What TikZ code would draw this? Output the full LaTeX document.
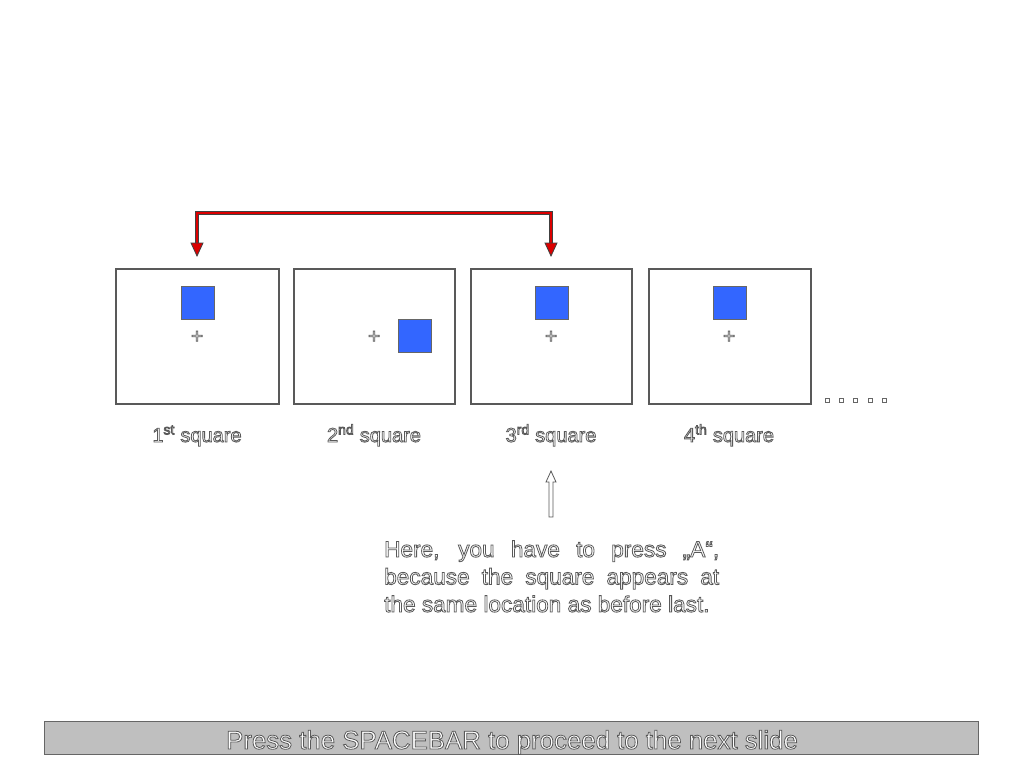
\documentclass[tikz,border=0pt]{standalone}
\usepackage{fontspec}
\setmainfont{Liberation Sans}
\usetikzlibrary{arrows.meta}
\newcommand{\outltxt}[1]{{\color{white}\special{pdf:literal direct 2 Tr 0.8 w 0.35 G}#1\special{pdf:literal direct 0 Tr}}}
\tikzset{
  frame/.style={draw=black!65, line width=1.4pt, fill=white, minimum width=#1, minimum height=135pt, inner sep=0pt, outer sep=0pt},
  bluesq/.style={draw=black!60, line width=0.6pt, fill={rgb,255:red,51;green,102;blue,255}, minimum width=33pt, minimum height=33pt, inner sep=0pt},
  crossmark/.style={font=\fontsize{21}{21}\selectfont, inner sep=0pt},
  lab/.style={font=\fontsize{20}{24}\selectfont, inner sep=0pt, anchor=base},
  redline/.style={draw=black!75, double={rgb,255:red,220;green,0;blue,0}, double distance=2.4pt, line width=0.8pt},
  redhead/.style={fill={rgb,255:red,220;green,0;blue,0}, draw=black!75, line width=0.8pt},
  dotbox/.style={draw=black!60, line width=0.7pt, fill=white, minimum size=4pt, inner sep=0pt},
}
\begin{document}
\begin{tikzpicture}[x=1pt,y=-1pt]
\useasboundingbox[fill=white] (0,0) rectangle (1024,768);
% frames
\node[frame=163pt] (f1) at (197.5,336.5) {};
\node[frame=161pt] (f2) at (374.5,336.5) {};
\node[frame=161pt] (f3) at (551.5,336.5) {};
\node[frame=162pt] (f4) at (730,336.5) {};
% blue squares
\node[bluesq] (s1) at (197.5,302.5) {};
\node[bluesq] (s2) at (415,336) {};
\node[bluesq] (s3) at (551.5,302.5) {};
\node[bluesq] (s4) at (729.5,302.5) {};
% crosses
\node[crossmark] (c1) at (197,337) {\outltxt{+}};
\node[crossmark] (c2) at (374,337) {\outltxt{+}};
\node[crossmark] (c3) at (551,337) {\outltxt{+}};
\node[crossmark] (c4) at (729,337) {\outltxt{+}};
% continuation dots
\node[dotbox] (d1) at (827,400) {};
\node[dotbox] (d2) at (841,400) {};
\node[dotbox] (d3) at (855,400) {};
\node[dotbox] (d4) at (870,400) {};
\node[dotbox] (d5) at (884,400) {};
% labels
\node[lab] (l1) at (197,442) {\outltxt{1\textsuperscript{st} square}};
\node[lab] (l2) at (374,442) {\outltxt{2\textsuperscript{nd} square}};
\node[lab] (l3) at (551,442) {\outltxt{3\textsuperscript{rd} square}};
\node[lab] (l4) at (729,442) {\outltxt{4\textsuperscript{th} square}};
% red connector
\coordinate (b1) at (197,244);
\coordinate (b3) at (551,244);
\coordinate (top) at (374,213);
\draw[redline] (b1) |- (top) -| (b3);
\fill[redhead] (197,256) -- (191,243) -- (203,243) -- cycle;
\fill[redhead] (551,256) -- (545,243) -- (557,243) -- cycle;
% hollow up arrow
\coordinate (ut) at (551,471);
\coordinate (ub) at (551,517);
\draw[draw=black!65, line width=0.8pt, fill=white] (ut) -- ++(5,11) -- ++(-3,0) |- (ub) -- ++(-2,0) |- ++(-3,-35) -- cycle;
% explanation
\node[anchor=base west, inner sep=0pt] (expl) at (384,557) {\parbox[t]{335pt}{\fontsize{22.6}{27.5}\selectfont\hyphenpenalty=10000\noindent\outltxt{Here, you have to press „A“,\linebreak because the square appears at\linebreak the same location as before last.}}};
% bottom bar
\node[draw=black!60, line width=0.8pt, fill=black!25, minimum width=934pt, minimum height=33pt, inner sep=0pt] (bar) at (511,737.5) {};
\node[anchor=base, inner sep=0pt, font=\fontsize{25.8}{25.8}\selectfont] (bartext) at (512,749) {\outltxt{Press the SPACEBAR to proceed to the next slide}};
\end{tikzpicture}
\end{document}
